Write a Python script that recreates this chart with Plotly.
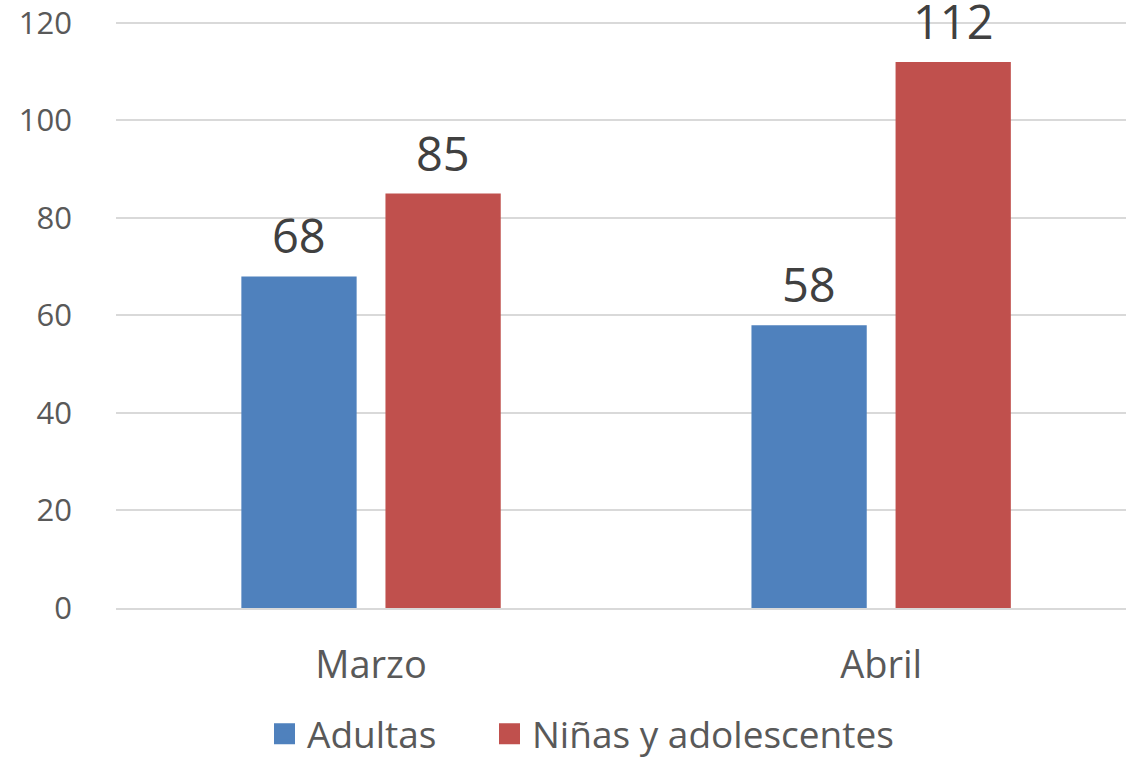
import plotly.graph_objects as go

meses = ["Marzo", "Abril"]
adultas = [68, 58]
ninas = [85, 112]
y_ticks = [0, 20, 40, 60, 80, 100, 120]

FONT = "Open Sans"
BLUE = "#4F81BD"
RED = "#C0504D"
BARGAP = 0.435
W, L, R = 1126, 116, 0
X_RANGE = [-0.5, 1.48]

fig = go.Figure()
fig.add_trace(go.Bar(x=meses, y=adultas, name="Adultas", marker_color=BLUE,
                     marker_line_width=0, showlegend=False))
fig.add_trace(go.Bar(x=meses, y=ninas, name="Niñas y adolescentes",
                     marker_color=RED, marker_line_width=0, showlegend=False))

# legend entries with larger square keys, one legend each so spacing can match
for name, color, lg in [("Adultas", BLUE, "legend"),
                        ("Niñas y adolescentes", RED, "legend2")]:
    fig.add_trace(go.Scatter(x=[None], y=[None], mode="markers", name=name,
                             legend=lg,
                             marker=dict(symbol="square", size=16, color=color,
                                         line=dict(color=color, width=5))))

# data labels above bars
cat_px = (W - L - R) / (X_RANGE[1] - X_RANGE[0])
slot = (1 - BARGAP) * cat_px / 2
for series, dx in [(adultas, -slot / 2), (ninas, slot / 2)]:
    for m, v in zip(meses, series):
        fig.add_annotation(x=m, y=v, text=str(v), showarrow=False,
                           xshift=dx, yshift=7, yanchor="bottom",
                           font=dict(size=47, color="#404040", family=FONT))

leg_common = dict(orientation="h", yref="container", y=0.03,
                  yanchor="middle", xref="container", xanchor="left",
                  font=dict(size=37, color="#595959"), itemwidth=35)

fig.update_layout(
    width=W, height=757,
    barmode="group", bargap=BARGAP, bargroupgap=0.2,
    plot_bgcolor="white", paper_bgcolor="white",
    margin=dict(l=L, r=R, t=20, b=149, autoexpand=False),
    font=dict(family=FONT, color="#595959"),
    showlegend=True,
    legend=dict(x=262 / W, **leg_common),
    legend2=dict(x=487 / W, **leg_common),
)
fig.update_yaxes(
    range=[0, 120.6], tickvals=y_ticks, showgrid=True, gridcolor="#D9D9D9",
    gridwidth=2, zeroline=False, showline=False, automargin=False,
    tickfont=dict(size=31, color="#595959"), ticklabelstandoff=43,
)
fig.update_xaxes(
    range=X_RANGE, showline=True, linecolor="#D9D9D9", linewidth=2,
    automargin=False,
    tickfont=dict(size=38, color="#595959"), ticklabelstandoff=22,
)

fig.write_html("out.html", config={"displayModeBar": False},
               post_script="document.body.style.margin='0px';")
